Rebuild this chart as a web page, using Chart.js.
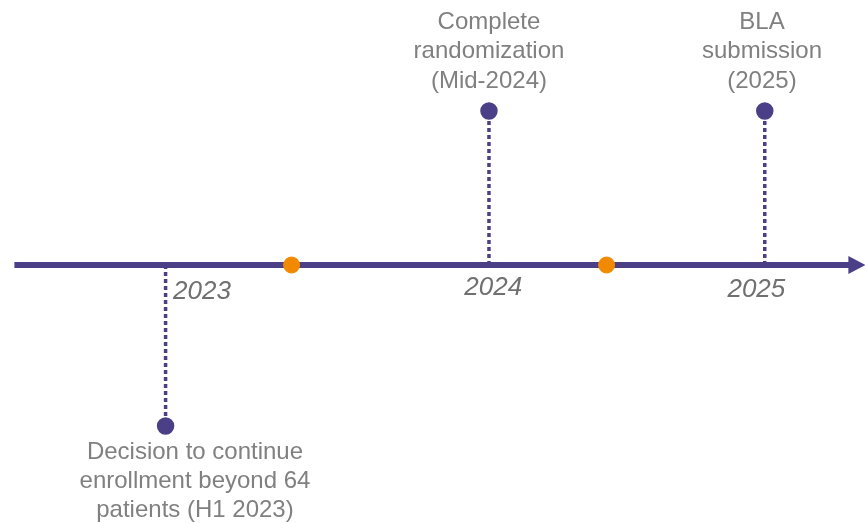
<!DOCTYPE html>
<html>
<head>
<meta charset="utf-8">
<script src="https://cdn.jsdelivr.net/npm/chart.js@4"></script>
<style>
  html, body { margin: 0; padding: 0; background: #fff; }
  #wrap { width: 865px; height: 523px; position: relative; }
</style>
</head>
<body>
<div id="wrap"><canvas id="c"></canvas></div>
<script>
// ---- data (x in years along the timeline, y = stem height) ----
const timelineRange = [2022.33, 2025.33];
const milestoneLabels = [
  ["Decision to continue", "enrollment beyond 64", "patients (H1 2023)"],
  ["Complete", "randomization", "(Mid-2024)"],
  ["BLA", "submission", "(2025)"]
];
const milestoneX = [2022.87, 2024.025, 2025.01];
const milestoneHeight = [-1.045, 1.0, 1.0];
const markerX = [2023.32, 2024.445];
const yearLabels = ["2023", "2024", "2025"];
const yearLabelX = [2023.0, 2024.04, 2024.98];
const yearLabelDy = [27, 23, 25];
const labelCenterX = [2022.975, 2024.025, 2025.0];

const PURPLE = '#4B3F87';
const ORANGE = '#F18A00';

const datasets = [];
// orange markers (drawn on top)
datasets.push({
  type: 'scatter',
  data: markerX.map(x => ({x, y: 0})),
  backgroundColor: ORANGE, borderColor: ORANGE,
  pointRadius: 8, pointHoverRadius: 8, order: 0
});
// main timeline
datasets.push({
  type: 'line',
  data: timelineRange.map(x => ({x, y: 0})),
  borderColor: PURPLE, borderWidth: 6, pointRadius: 0, order: 3
});
// milestone stems
milestoneX.forEach((x, i) => {
  datasets.push({
    type: 'line',
    data: [{x, y: 0}, {x, y: milestoneHeight[i]}],
    borderColor: PURPLE, backgroundColor: PURPLE,
    borderWidth: 3.5, borderDash: [4, 3],
    pointRadius: [0, 7], pointHoverRadius: [0, 7],
    order: 2
  });
});

const annot = {
  id: 'annot',
  afterDatasetsDraw(chart) {
    const {ctx, scales: {x, y}} = chart;
    ctx.save();
    // arrow head
    const ex = x.getPixelForValue(timelineRange[1]);
    const ey = y.getPixelForValue(0);
    ctx.fillStyle = PURPLE;
    ctx.beginPath();
    ctx.moveTo(ex - 6, ey - 9);
    ctx.lineTo(ex + 11, ey);
    ctx.lineTo(ex - 6, ey + 9);
    ctx.closePath();
    ctx.fill();
    // year labels
    ctx.font = 'italic 26px "Liberation Sans", Arial, sans-serif';
    ctx.fillStyle = '#707070';
    ctx.textAlign = 'center';
    ctx.textBaseline = 'middle';
    yearLabels.forEach((t, i) => {
      ctx.fillText(t, x.getPixelForValue(yearLabelX[i]), ey + yearLabelDy[i]);
    });
    // milestone labels
    ctx.font = '24px "Liberation Sans", Arial, sans-serif';
    ctx.fillStyle = '#808080';
    milestoneLabels.forEach((lines, i) => {
      const cx = x.getPixelForValue(labelCenterX[i]);
      const py = y.getPixelForValue(milestoneHeight[i]);
      const lh = 29.5;
      lines.forEach((ln, j) => {
        let yy;
        if (milestoneHeight[i] > 0) yy = py - 30 - (lines.length - 1 - j) * lh;
        else yy = py + 26 + j * 29;
        ctx.fillText(ln, cx, yy);
      });
    });
    ctx.restore();
  }
};

new Chart(document.getElementById('c'), {
  data: { datasets },
  options: {
    responsive: true,
    maintainAspectRatio: false,
    animation: false,
    layout: { padding: 0, autoPadding: false },
    plugins: { legend: { display: false }, tooltip: { enabled: false } },
    scales: {
      x: { type: 'linear', display: false, min: 2022.2786, max: 2025.368 },
      y: { type: 'linear', display: false, min: -1.675, max: 1.7208 }
    }
  },
  plugins: [annot]
});
</script>
</body>
</html>
